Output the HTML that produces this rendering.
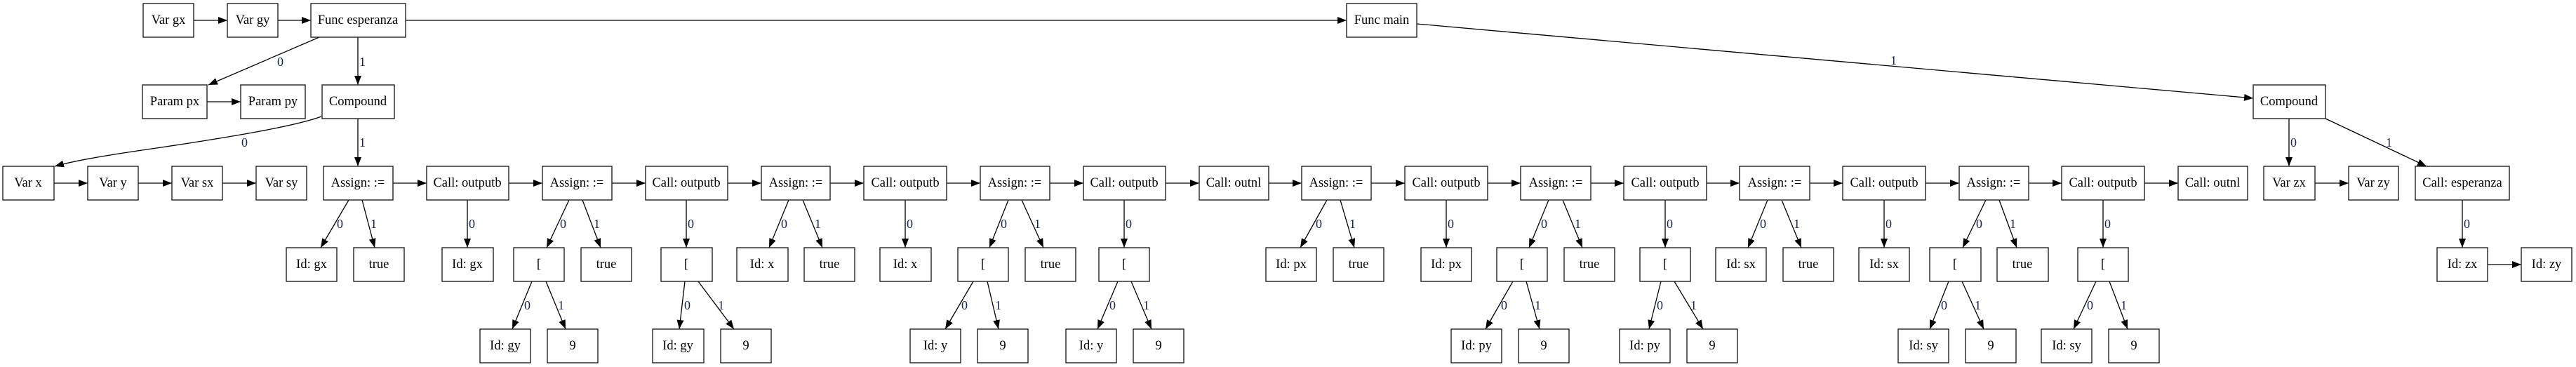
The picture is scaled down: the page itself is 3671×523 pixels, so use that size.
<!DOCTYPE html>
<html><head><meta charset="utf-8"><style>
html,body{margin:0;padding:0;background:#fff;}
svg{display:block;}
rect{fill:#fff;stroke:#222;stroke-width:1.4;}
line,path.e{stroke:#000;stroke-width:1.3;fill:none;}
text{font-family:"Liberation Serif",serif;font-size:18.5px;fill:#000;}
text.n{text-anchor:middle;dominant-baseline:central;}
text.l{fill:#1a2350;font-size:18px;}
</style></head><body>
<svg width="3671" height="523" viewBox="0 0 3671 523" xmlns="http://www.w3.org/2000/svg">
<defs><marker id="a" markerUnits="userSpaceOnUse" markerWidth="14" markerHeight="10" refX="13" refY="5" orient="auto"><path d="M0,0 L13,5 L0,10 z" fill="#000"/></marker></defs>
<g marker-end="url(#a)">
<!-- row1 -->
<line x1="276" y1="29" x2="324" y2="29"/>
<line x1="396" y1="29" x2="443" y2="29"/>
<line x1="578" y1="29" x2="1919" y2="29"/>
<line x1="455" y1="53" x2="297" y2="121"/>
<line x1="510" y1="53" x2="510" y2="121"/>
<line x1="2019" y1="34" x2="3211" y2="140"/>
<!-- row2 -->
<line x1="295" y1="145" x2="343" y2="145"/>
<path class="e" d="M458,166 C420,180 330,195 230,210 C160,220 110,228 78,237"/>
<line x1="510" y1="169" x2="510" y2="237"/>
<line x1="3262" y1="169" x2="3262" y2="237"/>
<line x1="3314" y1="169" x2="3458" y2="237"/>
<!-- row3 siblings -->
<line x1="77" y1="261" x2="125" y2="261"/>
<line x1="197" y1="261" x2="245" y2="261"/>
<line x1="317" y1="261" x2="365" y2="261"/>
<line x1="560" y1="261" x2="608" y2="261"/>
<line x1="725" y1="261" x2="773" y2="261"/>
<line x1="872" y1="261" x2="920" y2="261"/>
<line x1="1037" y1="261" x2="1085" y2="261"/>
<line x1="1183" y1="261" x2="1231" y2="261"/>
<line x1="1349" y1="261" x2="1397" y2="261"/>
<line x1="1496" y1="261" x2="1544" y2="261"/>
<line x1="1661" y1="261" x2="1709" y2="261"/>
<line x1="1808" y1="261" x2="1855" y2="261"/>
<line x1="1954" y1="261" x2="2002" y2="261"/>
<line x1="2120" y1="261" x2="2167" y2="261"/>
<line x1="2267" y1="261" x2="2314" y2="261"/>
<line x1="2432" y1="261" x2="2479" y2="261"/>
<line x1="2579" y1="261" x2="2626" y2="261"/>
<line x1="2744" y1="261" x2="2792" y2="261"/>
<line x1="2891" y1="261" x2="2938" y2="261"/>
<line x1="3056" y1="261" x2="3104" y2="261"/>
<line x1="3299" y1="261" x2="3347" y2="261"/>
<line x1="3545" y1="377" x2="3593" y2="377"/>
<!-- row3 -> row4 -->
<line x1="497" y1="285" x2="457" y2="353"/><line x1="516" y1="285" x2="534" y2="353"/>
<line x1="666" y1="285" x2="666" y2="353"/>
<line x1="811" y1="285" x2="779" y2="353"/><line x1="830" y1="285" x2="856" y2="353"/>
<line x1="978" y1="285" x2="978" y2="353"/>
<line x1="1124" y1="285" x2="1096" y2="353"/><line x1="1144" y1="285" x2="1172" y2="353"/>
<line x1="1290" y1="285" x2="1290" y2="353"/>
<line x1="1437" y1="285" x2="1410" y2="353"/><line x1="1456" y1="285" x2="1487" y2="353"/>
<line x1="1602" y1="285" x2="1602" y2="353"/>
<line x1="1891" y1="285" x2="1853" y2="353"/><line x1="1910" y1="285" x2="1930" y2="353"/>
<line x1="2061" y1="285" x2="2061" y2="353"/>
<line x1="2207" y1="285" x2="2179" y2="353"/><line x1="2227" y1="285" x2="2255" y2="353"/>
<line x1="2373" y1="285" x2="2373" y2="353"/>
<line x1="2519" y1="285" x2="2491" y2="353"/><line x1="2539" y1="285" x2="2567" y2="353"/>
<line x1="2685" y1="285" x2="2685" y2="353"/>
<line x1="2830" y1="285" x2="2797" y2="353"/><line x1="2849" y1="285" x2="2874" y2="353"/>
<line x1="2997" y1="285" x2="2997" y2="353"/>
<line x1="3509" y1="285" x2="3509" y2="353"/>
<!-- row4 -> row5 -->
<line x1="758" y1="401" x2="730" y2="469"/><line x1="778" y1="401" x2="806" y2="469"/>
<line x1="976" y1="401" x2="968" y2="469"/><line x1="995" y1="401" x2="1046" y2="469"/>
<line x1="1387" y1="401" x2="1347" y2="469"/><line x1="1407" y1="401" x2="1423" y2="469"/>
<line x1="1593" y1="401" x2="1564" y2="469"/><line x1="1612" y1="401" x2="1641" y2="469"/>
<line x1="2156" y1="401" x2="2117" y2="469"/><line x1="2175" y1="401" x2="2194" y2="469"/>
<line x1="2367" y1="401" x2="2350" y2="469"/><line x1="2386" y1="401" x2="2427" y2="469"/>
<line x1="2777" y1="401" x2="2750" y2="469"/><line x1="2796" y1="401" x2="2827" y2="469"/>
<line x1="2987" y1="401" x2="2955" y2="469"/><line x1="3006" y1="401" x2="3032" y2="469"/>
</g>
<!-- edge labels -->
<g>
<text class="l" x="395" y="94">0</text><text class="l" x="512" y="94">1</text>
<text class="l" x="2694" y="92">1</text>
<text class="l" x="344" y="209">0</text><text class="l" x="512" y="209">1</text>
<text class="l" x="3264" y="209">0</text><text class="l" x="3400" y="209">1</text>
<text class="l" x="3511" y="325">0</text>
<text class="l" x="480" y="325">0</text><text class="l" x="528" y="325">1</text>
<text class="l" x="668" y="325">0</text>
<text class="l" x="798" y="325">0</text><text class="l" x="846" y="325">1</text>
<text class="l" x="980" y="325">0</text>
<text class="l" x="1113" y="325">0</text><text class="l" x="1161" y="325">1</text>
<text class="l" x="1292" y="325">0</text>
<text class="l" x="1426" y="325">0</text><text class="l" x="1474" y="325">1</text>
<text class="l" x="1604" y="325">0</text>
<text class="l" x="1875" y="325">0</text><text class="l" x="1923" y="325">1</text>
<text class="l" x="2063" y="325">0</text>
<text class="l" x="2196" y="325">0</text><text class="l" x="2244" y="325">1</text>
<text class="l" x="2375" y="325">0</text>
<text class="l" x="2508" y="325">0</text><text class="l" x="2556" y="325">1</text>
<text class="l" x="2687" y="325">0</text>
<text class="l" x="2816" y="325">0</text><text class="l" x="2864" y="325">1</text>
<text class="l" x="2999" y="325">0</text>
<text class="l" x="747" y="441">0</text><text class="l" x="795" y="441">1</text>
<text class="l" x="975" y="441">0</text><text class="l" x="1023" y="441">1</text>
<text class="l" x="1370" y="441">0</text><text class="l" x="1418" y="441">1</text>
<text class="l" x="1581" y="441">0</text><text class="l" x="1629" y="441">1</text>
<text class="l" x="2139" y="441">0</text><text class="l" x="2187" y="441">1</text>
<text class="l" x="2361" y="441">0</text><text class="l" x="2409" y="441">1</text>
<text class="l" x="2766" y="441">0</text><text class="l" x="2814" y="441">1</text>
<text class="l" x="2974" y="441">0</text><text class="l" x="3022" y="441">1</text>
</g>
<!-- row1 nodes -->
<rect x="204" y="5" width="72" height="48"/><text class="n" x="240" y="29">Var gx</text>
<rect x="324" y="5" width="72" height="48"/><text class="n" x="360" y="29">Var gy</text>
<rect x="443" y="5" width="135" height="48"/><text class="n" x="510" y="29">Func esperanza</text>
<rect x="1919" y="5" width="100" height="48"/><text class="n" x="1969" y="29">Func main</text>
<!-- row2 -->
<rect x="203" y="121" width="92" height="48"/><text class="n" x="249" y="145">Param px</text>
<rect x="343" y="121" width="92" height="48"/><text class="n" x="389" y="145">Param py</text>
<rect x="459" y="121" width="103" height="48"/><text class="n" x="510" y="145">Compound</text>
<rect x="3211" y="121" width="103" height="48"/><text class="n" x="3262" y="145">Compound</text>
<!-- row3 -->
<rect x="4" y="237" width="73" height="48"/><text class="n" x="40" y="261">Var x</text>
<rect x="125" y="237" width="72" height="48"/><text class="n" x="161" y="261">Var y</text>
<rect x="245" y="237" width="72" height="48"/><text class="n" x="281" y="261">Var sx</text>
<rect x="365" y="237" width="72" height="48"/><text class="n" x="401" y="261">Var sy</text>
<rect x="461" y="237" width="99" height="48"/><text class="n" x="510" y="261">Assign: :=</text>
<rect x="608" y="237" width="117" height="48"/><text class="n" x="666" y="261">Call: outputb</text>
<rect x="773" y="237" width="99" height="48"/><text class="n" x="822" y="261">Assign: :=</text>
<rect x="920" y="237" width="117" height="48"/><text class="n" x="978" y="261">Call: outputb</text>
<rect x="1085" y="237" width="98" height="48"/><text class="n" x="1134" y="261">Assign: :=</text>
<rect x="1231" y="237" width="118" height="48"/><text class="n" x="1290" y="261">Call: outputb</text>
<rect x="1397" y="237" width="99" height="48"/><text class="n" x="1446" y="261">Assign: :=</text>
<rect x="1544" y="237" width="117" height="48"/><text class="n" x="1602" y="261">Call: outputb</text>
<rect x="1709" y="237" width="99" height="48"/><text class="n" x="1758" y="261">Call: outnl</text>
<rect x="1855" y="237" width="99" height="48"/><text class="n" x="1904" y="261">Assign: :=</text>
<rect x="2002" y="237" width="118" height="48"/><text class="n" x="2061" y="261">Call: outputb</text>
<rect x="2167" y="237" width="100" height="48"/><text class="n" x="2217" y="261">Assign: :=</text>
<rect x="2314" y="237" width="118" height="48"/><text class="n" x="2373" y="261">Call: outputb</text>
<rect x="2479" y="237" width="100" height="48"/><text class="n" x="2529" y="261">Assign: :=</text>
<rect x="2626" y="237" width="118" height="48"/><text class="n" x="2685" y="261">Call: outputb</text>
<rect x="2792" y="237" width="99" height="48"/><text class="n" x="2841" y="261">Assign: :=</text>
<rect x="2938" y="237" width="118" height="48"/><text class="n" x="2997" y="261">Call: outputb</text>
<rect x="3104" y="237" width="99" height="48"/><text class="n" x="3153" y="261">Call: outnl</text>
<rect x="3226" y="237" width="73" height="48"/><text class="n" x="3262" y="261">Var zx</text>
<rect x="3347" y="237" width="71" height="48"/><text class="n" x="3382" y="261">Var zy</text>
<rect x="3442" y="237" width="134" height="48"/><text class="n" x="3509" y="261">Call: esperanza</text>
<!-- row4 -->
<rect x="408" y="353" width="72" height="48"/><text class="n" x="444" y="377">Id: gx</text>
<rect x="504" y="353" width="72" height="48"/><text class="n" x="540" y="377">true</text>
<rect x="630" y="353" width="73" height="48"/><text class="n" x="666" y="377">Id: gx</text>
<rect x="732" y="353" width="72" height="48"/><text class="n" x="768" y="377">[</text>
<rect x="828" y="353" width="72" height="48"/><text class="n" x="864" y="377">true</text>
<rect x="942" y="353" width="73" height="48"/><text class="n" x="978" y="377">[</text>
<rect x="1050" y="353" width="73" height="48"/><text class="n" x="1086" y="377">Id: x</text>
<rect x="1146" y="353" width="72" height="48"/><text class="n" x="1182" y="377">true</text>
<rect x="1254" y="353" width="73" height="48"/><text class="n" x="1290" y="377">Id: x</text>
<rect x="1365" y="353" width="72" height="48"/><text class="n" x="1401" y="377">[</text>
<rect x="1461" y="353" width="72" height="48"/><text class="n" x="1497" y="377">true</text>
<rect x="1566" y="353" width="72" height="48"/><text class="n" x="1602" y="377">[</text>
<rect x="1804" y="353" width="72" height="48"/><text class="n" x="1840" y="377">Id: px</text>
<rect x="1900" y="353" width="72" height="48"/><text class="n" x="1936" y="377">true</text>
<rect x="2025" y="353" width="72" height="48"/><text class="n" x="2061" y="377">Id: px</text>
<rect x="2133" y="353" width="72" height="48"/><text class="n" x="2169" y="377">[</text>
<rect x="2229" y="353" width="72" height="48"/><text class="n" x="2265" y="377">true</text>
<rect x="2337" y="353" width="72" height="48"/><text class="n" x="2373" y="377">[</text>
<rect x="2445" y="353" width="72" height="48"/><text class="n" x="2481" y="377">Id: sx</text>
<rect x="2541" y="353" width="72" height="48"/><text class="n" x="2577" y="377">true</text>
<rect x="2649" y="353" width="72" height="48"/><text class="n" x="2685" y="377">Id: sx</text>
<rect x="2750" y="353" width="73" height="48"/><text class="n" x="2786" y="377">[</text>
<rect x="2846" y="353" width="73" height="48"/><text class="n" x="2882" y="377">true</text>
<rect x="2961" y="353" width="72" height="48"/><text class="n" x="2997" y="377">[</text>
<rect x="3473" y="353" width="72" height="48"/><text class="n" x="3509" y="377">Id: zx</text>
<rect x="3593" y="353" width="72" height="48"/><text class="n" x="3629" y="377">Id: zy</text>
<!-- row5 -->
<rect x="684" y="469" width="72" height="48"/><text class="n" x="720" y="493">Id: gy</text>
<rect x="780" y="469" width="72" height="48"/><text class="n" x="816" y="493">9</text>
<rect x="930" y="469" width="73" height="48"/><text class="n" x="966" y="493">Id: gy</text>
<rect x="1027" y="469" width="72" height="48"/><text class="n" x="1063" y="493">9</text>
<rect x="1297" y="469" width="72" height="48"/><text class="n" x="1333" y="493">Id: y</text>
<rect x="1393" y="469" width="72" height="48"/><text class="n" x="1429" y="493">9</text>
<rect x="1519" y="469" width="72" height="48"/><text class="n" x="1555" y="493">Id: y</text>
<rect x="1615" y="469" width="72" height="48"/><text class="n" x="1651" y="493">9</text>
<rect x="2068" y="469" width="72" height="48"/><text class="n" x="2104" y="493">Id: py</text>
<rect x="2164" y="469" width="72" height="48"/><text class="n" x="2200" y="493">9</text>
<rect x="2308" y="469" width="72" height="48"/><text class="n" x="2344" y="493">Id: py</text>
<rect x="2404" y="469" width="72" height="48"/><text class="n" x="2440" y="493">9</text>
<rect x="2705" y="469" width="72" height="48"/><text class="n" x="2741" y="493">Id: sy</text>
<rect x="2801" y="469" width="72" height="48"/><text class="n" x="2837" y="493">9</text>
<rect x="2909" y="469" width="72" height="48"/><text class="n" x="2945" y="493">Id: sy</text>
<rect x="3005" y="469" width="72" height="48"/><text class="n" x="3041" y="493">9</text>
</svg>
</body></html>
